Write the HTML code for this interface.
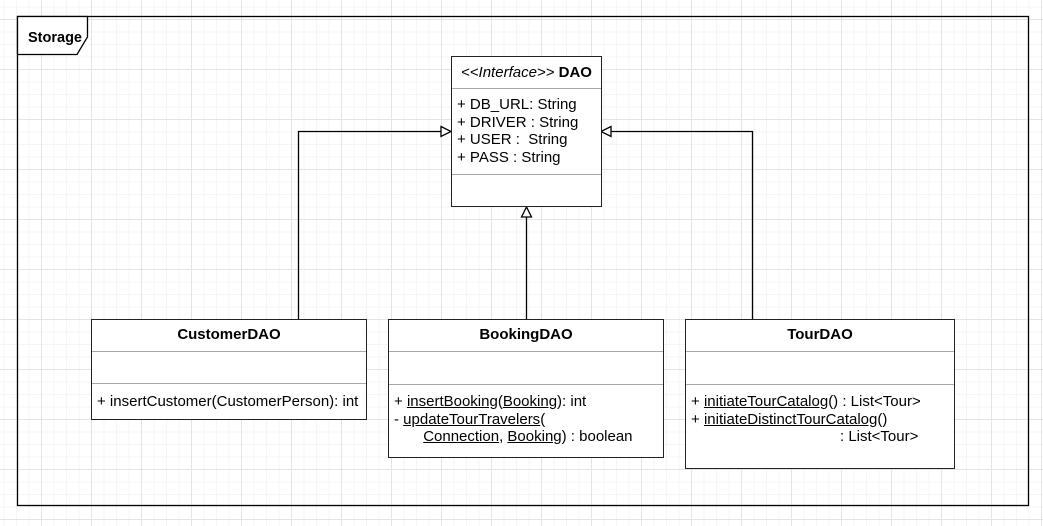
<!DOCTYPE html>
<html><head><style>
html,body{margin:0;padding:0}
body{width:1043px;height:526px;position:relative;overflow:hidden;background:#fff;
background-image:linear-gradient(#e4e4e4 1px,transparent 1px),linear-gradient(90deg,#e4e4e4 1px,transparent 1px),linear-gradient(#f5f5f5 1px,transparent 1px),linear-gradient(90deg,#f5f5f5 1px,transparent 1px);
background-size:50px 50px,50px 50px,12.5px 12.5px,12.5px 12.5px;background-position:41px 19px;
font-family:"Liberation Sans",Arial,sans-serif;font-size:15px;color:#000}
.box{position:absolute;border:1.5px solid #222;background:#fff;box-sizing:border-box}
.hd{position:absolute;left:0;right:0;text-align:center;font-weight:bold;top:6px}
.dv{position:absolute;left:0;right:0;height:0;border-top:1.5px solid #a8a8a8}
.t{position:absolute;white-space:pre;line-height:17.5px}
u{text-decoration:underline}
</style></head><body>
<svg width="1043" height="526" style="position:absolute;left:0;top:0">
<g stroke-width="1.3">
<rect x="17.5" y="16.5" width="1011" height="489" fill="none" stroke="#000"/>
<polygon points="17.5,16.5 87.5,16.5 87.5,37 77,54.5 17.5,54.5" fill="#fff" stroke="#000"/>
<polyline points="298.5,319 298.5,131.5 441,131.5" fill="none" stroke="#000"/>
<polygon points="441,126.5 451,131.5 441,136.5" fill="#fff" stroke="#000"/>
<line x1="526.5" y1="319" x2="526.5" y2="217" stroke="#000"/>
<polygon points="521.5,217 526.5,207 531.5,217" fill="#fff" stroke="#000"/>
<polyline points="752.5,319 752.5,131.5 611,131.5" fill="none" stroke="#000"/>
<polygon points="611,126.5 601,131.5 611,136.5" fill="#fff" stroke="#000"/>
</g>
<text x="28" y="42" font-family="Liberation Sans,Arial" font-weight="bold" font-size="14.5">Storage</text>
</svg>
<div class="box" style="left:451px;top:56px;width:151px;height:151px">
<div class="hd" style="font-weight:normal;left:-10px;right:-10px;top:7px"><i>&lt;&lt;Interface&gt;&gt;</i> <b>DAO</b></div>
<div class="dv" style="top:31px"></div>
<div class="t" style="left:5px;top:39px">+ DB_URL: String
+ DRIVER : String
+ USER :  String
+ PASS : String</div>
<div class="dv" style="top:117px"></div>
</div>
<div class="box" style="left:91px;top:319px;width:276px;height:101px">
<div class="hd">CustomerDAO</div>
<div class="dv" style="top:31px"></div>
<div class="dv" style="top:63px"></div>
<div class="t" style="left:5px;top:73px">+ insertCustomer(CustomerPerson): int</div>
</div>
<div class="box" style="left:388px;top:319px;width:276px;height:139px">
<div class="hd">BookingDAO</div>
<div class="dv" style="top:31px"></div>
<div class="dv" style="top:64px"></div>
<div class="t" style="left:5px;top:73px">+ <u>insertBooking</u>(<u>Booking</u>): int
- <u>updateTourTravelers</u>(
       <u>Connection</u>, <u>Booking</u>) : boolean</div>
</div>
<div class="box" style="left:685px;top:319px;width:270px;height:150px">
<div class="hd">TourDAO</div>
<div class="dv" style="top:31px"></div>
<div class="dv" style="top:64px"></div>
<div class="t" style="left:5px;top:73px">+ <u>initiateTourCatalog</u>() : List&lt;Tour&gt;
+ <u>initiateDistinctTourCatalog</u>()</div>
<div class="t" style="left:154px;top:108px">: List&lt;Tour&gt;</div>
</div>
</body></html>
